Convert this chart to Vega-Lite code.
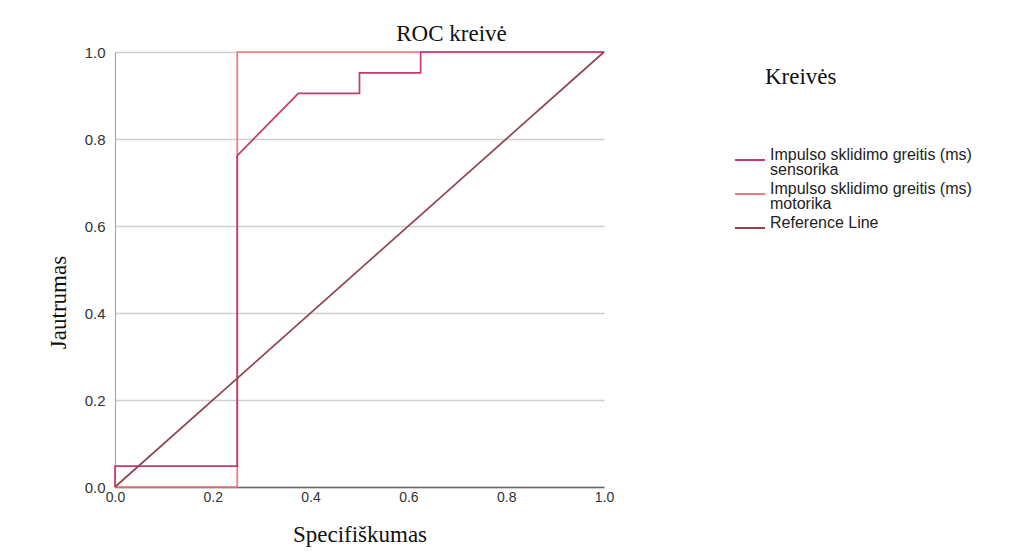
{
  "$schema": "https://vega.github.io/schema/vega-lite/v6.json",
  "autosize": {"type": "none"},
  "padding": {"left": 115, "top": 52, "right": 406, "bottom": 65},
  "width": 489,
  "height": 435,
  "background": "white",
  "title": {"text": "ROC kreivė", "font": "Liberation Serif", "fontSize": 23, "fontWeight": "normal", "color": "#111", "anchor": "middle", "frame": "group", "dx": 92, "dy": 30, "baseline": "alphabetic", "offset": 11},
  "data": {"values": [
    {"curve": "Impulso sklidimo greitis (ms) sensorika", "order": 1, "x": 0, "y": 0},
    {"curve": "Impulso sklidimo greitis (ms) sensorika", "order": 2, "x": 0, "y": 0.048},
    {"curve": "Impulso sklidimo greitis (ms) sensorika", "order": 3, "x": 0.25, "y": 0.048},
    {"curve": "Impulso sklidimo greitis (ms) sensorika", "order": 4, "x": 0.25, "y": 0.762},
    {"curve": "Impulso sklidimo greitis (ms) sensorika", "order": 5, "x": 0.375, "y": 0.905},
    {"curve": "Impulso sklidimo greitis (ms) sensorika", "order": 6, "x": 0.5, "y": 0.905},
    {"curve": "Impulso sklidimo greitis (ms) sensorika", "order": 7, "x": 0.5, "y": 0.952},
    {"curve": "Impulso sklidimo greitis (ms) sensorika", "order": 8, "x": 0.625, "y": 0.952},
    {"curve": "Impulso sklidimo greitis (ms) sensorika", "order": 9, "x": 0.625, "y": 1},
    {"curve": "Impulso sklidimo greitis (ms) sensorika", "order": 10, "x": 1, "y": 1},
    {"curve": "Impulso sklidimo greitis (ms) motorika", "order": 1, "x": 0, "y": 0},
    {"curve": "Impulso sklidimo greitis (ms) motorika", "order": 2, "x": 0.25, "y": 0},
    {"curve": "Impulso sklidimo greitis (ms) motorika", "order": 3, "x": 0.25, "y": 1},
    {"curve": "Impulso sklidimo greitis (ms) motorika", "order": 4, "x": 1, "y": 1},
    {"curve": "Reference Line", "order": 1, "x": 0, "y": 0},
    {"curve": "Reference Line", "order": 2, "x": 1, "y": 1}
  ]},
  "encoding": {
    "x": {"field": "x", "type": "quantitative", "scale": {"domain": [0, 1], "nice": false},
      "axis": {"values": [0, 0.2, 0.4, 0.6, 0.8, 1], "format": ".1f", "grid": false, "ticks": false, "labelPadding": 3, "labelFlush": false,
        "labelFont": "Liberation Sans", "labelFontSize": 14, "labelColor": "#333", "domainColor": "#666", "domainWidth": 1.5,
        "title": "Specifiškumas", "titleFont": "Liberation Serif", "titleFontSize": 23, "titleFontWeight": "normal", "titleColor": "#111",
        "titleY": 54, "titleBaseline": "alphabetic"}},
    "y": {"field": "y", "type": "quantitative", "scale": {"domain": [0, 1], "nice": false},
      "axis": {"values": [0, 0.2, 0.4, 0.6, 0.8, 1], "format": ".1f", "grid": true, "gridColor": "#cfcfcf", "gridWidth": 1.3, "ticks": false, "labelPadding": 10,
        "labelFont": "Liberation Sans", "labelFontSize": 15, "labelColor": "#333", "domainColor": "#aaa", "domainWidth": 1.2,
        "title": "Jautrumas", "titleFont": "Liberation Serif", "titleFontSize": 23, "titleFontWeight": "normal", "titleColor": "#111",
        "titleX": -50, "titleY": 250, "titleBaseline": "alphabetic", "titleAngle": -90, "titleAlign": "center"}},
    "order": {"field": "order", "type": "quantitative"},
    "color": {"field": "curve", "type": "nominal",
      "scale": {"domain": ["Impulso sklidimo greitis (ms) sensorika", "Impulso sklidimo greitis (ms) motorika", "Reference Line"],
        "range": ["#c23a70", "#f4757c", "#8e4550"]},
      "legend": {"orient": "none", "legendX": 650, "legendY": 14,
        "title": "Kreivės", "titleFont": "Liberation Serif", "titleFontSize": 23, "titleFontWeight": "normal", "titleColor": "#111", "titlePadding": 55,
        "symbolType": "stroke", "symbolSize": 900, "symbolStrokeWidth": 2, "symbolOffset": -31,
        "labelFont": "Liberation Sans", "labelFontSize": 16, "labelColor": "#222", "labelOffset": 4, "labelLimit": 400, "rowPadding": 0, "labelBaseline": "alphabetic",
        "labelExpr": "indexof(datum.label,'(ms) ')>=0 ? [slice(datum.label,0,indexof(datum.label,'(ms) ')+4), slice(datum.label,indexof(datum.label,'(ms) ')+5)] : datum.label"}}
  },
  "layer": [
    {"transform": [{"filter": "datum.curve == 'Impulso sklidimo greitis (ms) motorika'"}], "mark": {"type": "line", "strokeWidth": 1.7}},
    {"transform": [{"filter": "datum.curve == 'Impulso sklidimo greitis (ms) sensorika'"}], "mark": {"type": "line", "strokeWidth": 1.7}},
    {"transform": [{"filter": "datum.curve == 'Reference Line'"}], "mark": {"type": "line", "strokeWidth": 1.7}}
  ],
  "config": {"view": {"stroke": null}, "style": {"guide-label": {"lineHeight": 15}}}
}
